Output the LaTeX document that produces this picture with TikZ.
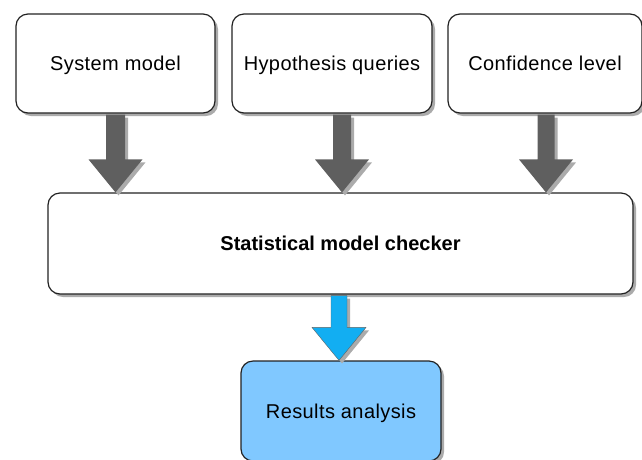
\documentclass[tikz,border=0pt]{standalone}
\usepackage{fontspec}
\setmainfont{Liberation Sans}
\usetikzlibrary{shadows,calc}
\definecolor{arrgray}{HTML}{5F5F5F}
\definecolor{arrblue}{HTML}{12AEF2}
\definecolor{resblue}{HTML}{80C8FF}
\definecolor{shadowgray}{HTML}{ABABAB}
\definecolor{edgecol}{HTML}{222222}
\tikzset{
  sh/.style={drop shadow={shadow xshift=3pt, shadow yshift=-3pt, fill=shadowgray, opacity=1}},
  box/.style={draw=edgecol, line width=1.2pt, rounded corners=12pt, fill=white, sh,
    inner sep=0pt, text height=14.5pt, text depth=0.5pt,
    font=\fontsize{20}{24}\selectfont\addfontfeature{LetterSpace=2}},
  resbox/.style={box, fill=resblue},
  grayarrow/.style={fill=arrgray, sh},
  bluearrow/.style={fill=arrblue, draw=edgecol!70, line width=0.4pt, sh},
}
\newcommand\fatarrow[5]{%
  \path[#5] ($(#1.south -| #3)+(-#4,1)$) -- ($(#1.south -| #3)+(#4,1)$)
    -- ($(#2.north -| #3)+(#4,-33)$) -- ($(#2.north -| #3)+(27,-33)$)
    -- (#2.north -| #3) -- ($(#2.north -| #3)+(-27,-33)$)
    -- ($(#2.north -| #3)+(-#4,-33)$) -- cycle;}
\begin{document}
\begin{tikzpicture}[x=1pt,y=-1pt]
\useasboundingbox (0,0) rectangle (642,459);
\node[box, minimum width=199pt, minimum height=99pt] (sys) at (115.5,63.5) {System model};
\node[box, minimum width=200pt, minimum height=99pt] (hyp) at (332,63.5) {Hypothesis queries};
\node[box, minimum width=194pt, minimum height=99pt] (conf) at (545,63.5) {Confidence level};
\node[box, minimum width=585pt, minimum height=101pt, font=\fontsize{20}{24}\selectfont\bfseries] (smc) at (340.5,243.5) {Statistical model checker};
\node[resbox, minimum width=200pt, minimum height=100pt] (res) at (341,411) {Results analysis};
\coordinate (xa) at (115.5,0);
\coordinate (xb) at (342,0);
\coordinate (xc) at (546,0);
\coordinate (xd) at (339,0);
\fatarrow{sys}{smc}{xa}{9.5}{grayarrow}
\fatarrow{hyp}{smc}{xb}{9}{grayarrow}
\fatarrow{conf}{smc}{xc}{8.5}{grayarrow}
\fatarrow{smc}{res}{xd}{8}{bluearrow}
\end{tikzpicture}
\end{document}
